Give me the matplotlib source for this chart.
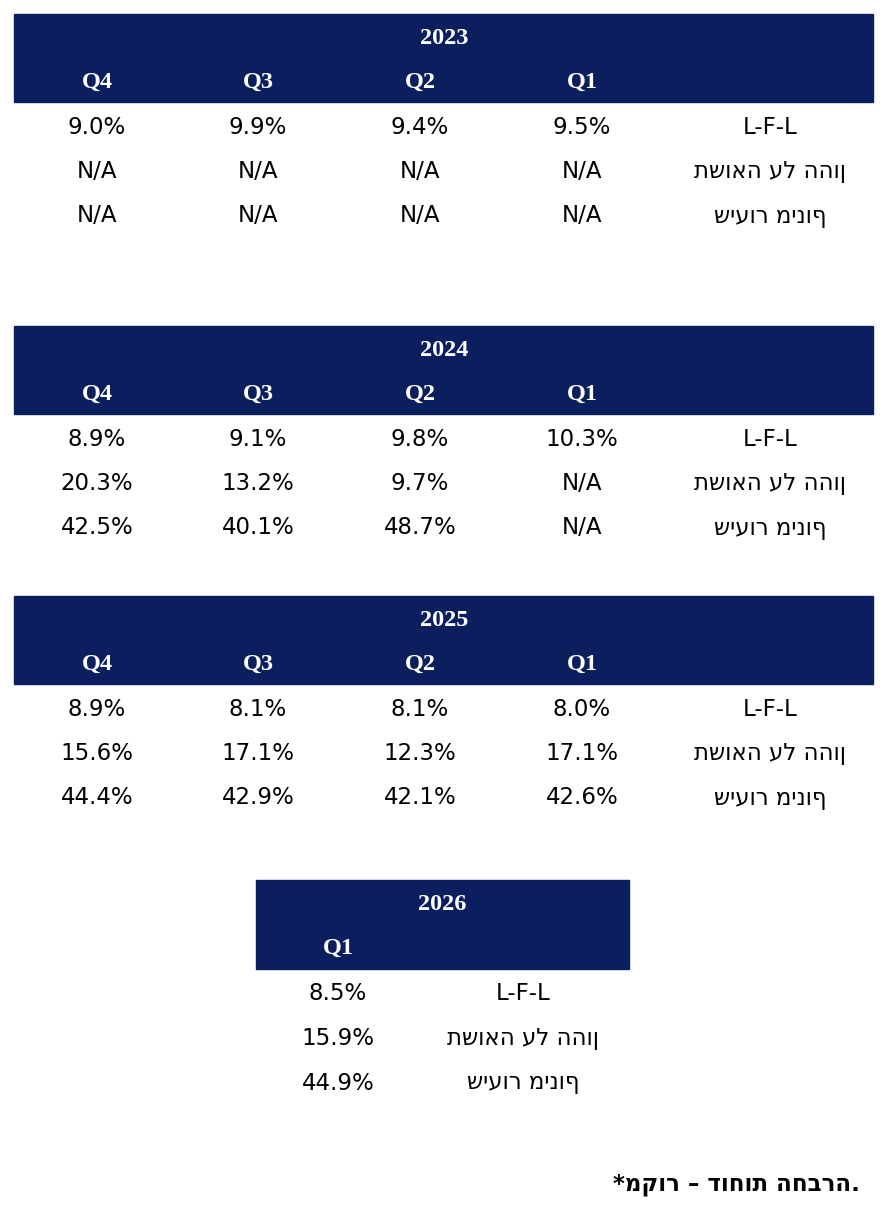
import matplotlib
matplotlib.use("Agg")
import matplotlib.pyplot as plt
from matplotlib.patches import Rectangle

NAVY = "#0b1f5e"
W, H = 884, 1214

years = ["2023", "2024", "2025"]
quarters = ["Q4", "Q3", "Q2", "Q1"]
row_labels = ["L-F-L", "תשואה על ההון", "שיעור מינוף"]
values = {
    "2023": [["9.0%", "9.9%", "9.4%", "9.5%"],
             ["N/A", "N/A", "N/A", "N/A"],
             ["N/A", "N/A", "N/A", "N/A"]],
    "2024": [["8.9%", "9.1%", "9.8%", "10.3%"],
             ["20.3%", "13.2%", "9.7%", "N/A"],
             ["42.5%", "40.1%", "48.7%", "N/A"]],
    "2025": [["8.9%", "8.1%", "8.1%", "8.0%"],
             ["15.6%", "17.1%", "12.3%", "17.1%"],
             ["44.4%", "42.9%", "42.1%", "42.6%"]],
}
year_2026 = "2026"
values_2026 = ["8.5%", "15.9%", "44.9%"]
footer = "*מקור – דוחות החברה."

fig = plt.figure(figsize=(W / 100, H / 100), dpi=100)
ax = fig.add_axes([0, 0, 1, 1])
ax.set_xlim(0, W)
ax.set_ylim(H, 0)
ax.axis("off")

FS = 16.5
HFS = 17.5
col_x = [97, 258, 420, 582]
tops = [14, 326, 596]

for year, top in zip(years, tops):
    ax.add_patch(Rectangle((14, top), 859, 88, color=NAVY))
    ax.text(444, top + 24, year, ha="center", va="center", color="white",
            fontsize=HFS, weight="bold", family="Liberation Serif")
    for q, x in zip(quarters, col_x):
        ax.text(x, top + 68, q, ha="center", va="center", color="white",
                fontsize=HFS, weight="bold", family="Liberation Serif")
    for r, lab in enumerate(row_labels):
        y = top + 113 + r * 44.5
        ax.text(770, y, lab, ha="center", va="center", fontsize=FS,
                family="DejaVu Sans")
        for v, x in zip(values[year][r], col_x):
            ax.text(x, y, v, ha="center", va="center", fontsize=FS,
                    family="DejaVu Sans")

top = 880
ax.add_patch(Rectangle((256, top), 373, 89, color=NAVY))
ax.text(442, top + 25, year_2026, ha="center", va="center", color="white",
        fontsize=HFS, weight="bold", family="Liberation Serif")
ax.text(338, top + 68, "Q1", ha="center", va="center", color="white",
        fontsize=HFS, weight="bold", family="Liberation Serif")
for r, lab in enumerate(row_labels):
    y = top + 114 + r * 44.5
    ax.text(523, y, lab, ha="center", va="center", fontsize=FS,
            family="DejaVu Sans")
    ax.text(338, y, values_2026[r], ha="center", va="center", fontsize=FS,
            family="DejaVu Sans")

ax.text(860, 1185, footer, ha="right", va="center", fontsize=FS,
        weight="bold", family="DejaVu Sans")

fig.savefig("out.png", dpi=100, facecolor="white")
